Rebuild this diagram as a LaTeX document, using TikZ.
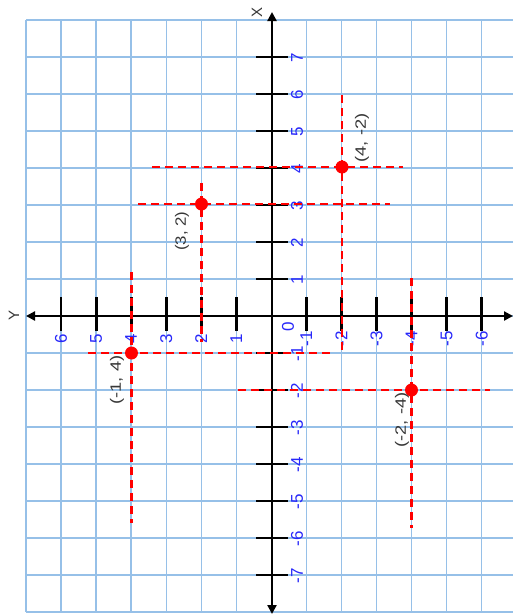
\documentclass[tikz,border=0pt]{standalone}
\usepackage{fontspec}
\setmainfont{Liberation Sans}
\usetikzlibrary{arrows.meta}
\definecolor{gridblue}{RGB}{150,192,232}
\definecolor{numblue}{RGB}{40,40,250}
\definecolor{ptred}{RGB}{255,0,0}
\definecolor{lblgray}{RGB}{55,55,55}
\begin{document}
\begin{tikzpicture}[x=1pt,y=-1pt,
  gridline/.style={gridblue, line width=1.4pt},
  axisline/.style={black, line width=2.6pt, {Triangle[length=9pt,width=9pt]}-{Triangle[length=9pt,width=9pt]}},
  tickmark/.style={black, line width=2.8pt},
  guide/.style={ptred, line width=2.4pt, dash pattern=on 8pt off 5pt},
  ptdot/.style={circle, fill=ptred, inner sep=0pt, minimum size=13pt},
  numlbl/.style={numblue, rotate=90, font=\fontsize{17}{17}\selectfont, inner sep=0pt},
  ptlbl/.style={lblgray, rotate=90, font=\fontsize{15}{15}\selectfont, inner sep=0pt},
  axlbl/.style={lblgray, rotate=90, font=\fontsize{15}{15}\selectfont, inner sep=0pt},
]
\useasboundingbox (0,0) rectangle (513,614);
\fill[white] (0,0) rectangle (513,614);
% grid
\foreach \k in {0,...,13} \draw[gridline] ({26+35.05*\k},20) -- ({26+35.05*\k},612);
\foreach \j in {0,...,16} \draw[gridline] (26,{20+37*\j}) -- (513,{20+37*\j});
% ticks on vertical (X) axis
\foreach \j in {1,...,7,9,10,...,15} {
  \pgfmathtruncatemacro{\v}{8-\j}
  \draw[tickmark] (256,{20+37*\j}) -- (288,{20+37*\j});
  \node[numlbl] (xl\j) at (297,{21+37*\j}) {\v};
}
% ticks on horizontal (Y) axis
\foreach \k in {1,...,6,8,9,...,13} {
  \pgfmathtruncatemacro{\v}{7-\k}
  \draw[tickmark] ({26+35.05*\k},297) -- ({26+35.05*\k},331);
  \node[numlbl] (yl\k) at ({26+35.05*\k},339) {\v};
}
% axes
\coordinate (xbot) at (272,614);
\coordinate (xtop) at (272,12);
\coordinate (yleft) at (26,316);
\coordinate (yright) at (513,316);
\draw[axisline] (xbot) -- (xtop);
\draw[axisline] (yright) -- (yleft);
\node[axlbl] (xname) at (257,12) {X};
\node[axlbl] (yname) at (14,315) {Y};
\node[numlbl] (orig) at (288,327) {0};
% guide lines
\coordinate (a1) at (152,167); \coordinate (a2) at (403,167);
\coordinate (a3) at (342,95);  \coordinate (a4) at (342,353);
\coordinate (b1) at (138,204); \coordinate (b2) at (390,204);
\coordinate (b3) at (201.5,183); \coordinate (b4) at (201.5,342);
\coordinate (c1) at (88,353);  \coordinate (c2) at (331,353);
\coordinate (c3) at (131.5,272); \coordinate (c4) at (131.5,523);
\coordinate (d1) at (238,390); \coordinate (d2) at (490,390);
\coordinate (d3) at (411.5,278); \coordinate (d4) at (411.5,528);
\draw[guide] (a1) -- (a2); \draw[guide] (a3) -- (a4);
\draw[guide] (b1) -- (b2); \draw[guide] (b3) -- (b4);
\draw[guide] (c1) -- (c2); \draw[guide] (c3) -- (c4);
\draw[guide] (d1) -- (d2); \draw[guide] (d3) -- (d4);
% points
\node[ptdot] (p1) at (342,167) {};
\node[ptdot] (p2) at (201.5,204) {};
\node[ptdot] (p3) at (131.5,353) {};
\node[ptdot] (p4) at (411.5,390) {};
\node[ptlbl] (l1) at (362,138) {\scalebox{1.22}[1]{(4, -2)}};
\node[ptlbl] (l2) at (182,231) {\scalebox{1.12}[1]{(3, 2)}};
\node[ptlbl] (l3) at (117,380) {\scalebox{1.22}[1]{(-1, 4)}};
\node[ptlbl] (l4) at (402,420) {\scalebox{1.22}[1]{(-2, -4)}};
\end{tikzpicture}
\end{document}
